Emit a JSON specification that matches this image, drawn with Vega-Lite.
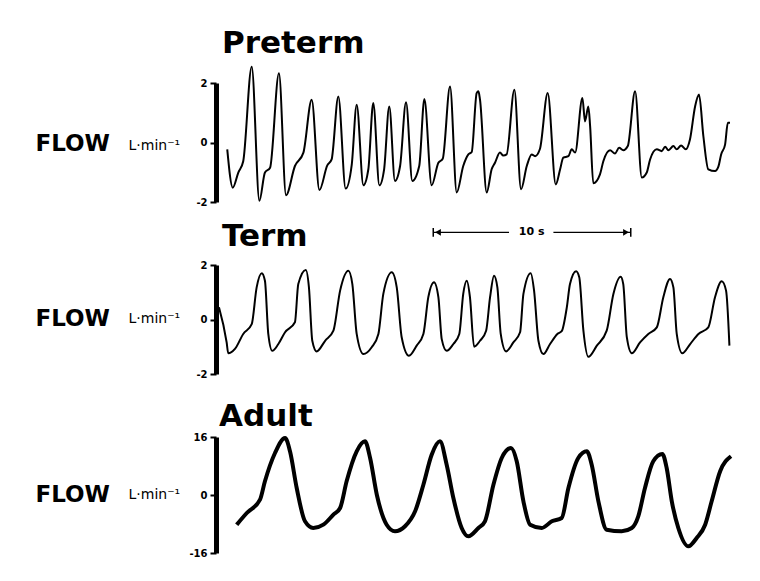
{
  "$schema": "https://vega.github.io/schema/vega-lite/v6.json",
  "autosize": {"type": "pad"},
  "padding": {"left": 35, "top": 27, "right": 5, "bottom": 5},
  "background": "white",
  "bounds": "flush",
  "spacing": 63,
  "config": {"view": {"stroke": null}, "font": "DejaVu Sans"},
  "datasets": {
    "preterm": [
      {"t":0.57,"flow":-0.23},{"t":0.85,"flow":-1.52},{"t":1.13,"flow":-1.01},{"t":1.38,"flow":-0.63},{"t":1.81,"flow":2.55},{"t":2.2,"flow":-1.96},{"t":2.48,"flow":-1.01},{"t":2.74,"flow":-0.85},{"t":3.19,"flow":2.33},{"t":3.55,"flow":-1.77},{"t":4.0,"flow":-0.79},{"t":4.43,"flow":-0.34},{"t":4.85,"flow":1.44},{"t":5.24,"flow":-1.6},{"t":5.64,"flow":-0.77},{"t":5.86,"flow":-0.57},{"t":6.2,"flow":1.55},{"t":6.57,"flow":-1.55},{"t":6.88,"flow":-0.74},{"t":7.13,"flow":1.27},{"t":7.47,"flow":-1.44},{"t":7.72,"flow":-0.9},{"t":7.97,"flow":1.33},{"t":8.28,"flow":-1.44},{"t":8.52,"flow":-0.9},{"t":8.78,"flow":1.21},{"t":9.07,"flow":-1.29},{"t":9.33,"flow":-0.79},{"t":9.63,"flow":1.35},{"t":9.95,"flow":-1.29},{"t":10.3,"flow":-0.79},{"t":10.56,"flow":1.46},{"t":10.93,"flow":-1.44},{"t":11.27,"flow":-0.68},{"t":11.49,"flow":-0.55},{"t":11.86,"flow":1.88},{"t":12.2,"flow":-1.68},{"t":12.53,"flow":-0.79},{"t":12.79,"flow":-0.4},{"t":12.96,"flow":-0.32},{"t":13.21,"flow":1.66},{"t":13.3,"flow":1.72},{"t":13.38,"flow":1.44},{"t":13.72,"flow":-1.68},{"t":13.97,"flow":-0.9},{"t":14.14,"flow":-0.68},{"t":14.39,"flow":-0.34},{"t":14.56,"flow":-0.44},{"t":14.73,"flow":-0.4},{"t":15.12,"flow":1.77},{"t":15.46,"flow":-1.57},{"t":15.75,"flow":-0.79},{"t":16.0,"flow":-0.4},{"t":16.17,"flow":-0.46},{"t":16.42,"flow":-0.21},{"t":16.81,"flow":1.66},{"t":17.22,"flow":-1.41},{"t":17.44,"flow":-0.9},{"t":17.6,"flow":-0.51},{"t":17.86,"flow":-0.46},{"t":18.03,"flow":-0.23},{"t":18.2,"flow":-0.34},{"t":18.57,"flow":1.5},{"t":18.7,"flow":0.71},{"t":18.87,"flow":1.21},{"t":18.96,"flow":0.55},{"t":19.12,"flow":-1.37},{"t":19.46,"flow":-1.07},{"t":19.63,"flow":-0.63},{"t":19.97,"flow":-0.26},{"t":20.22,"flow":-0.37},{"t":20.43,"flow":-0.18},{"t":20.64,"flow":-0.26},{"t":20.87,"flow":-0.12},{"t":21.24,"flow":1.72},{"t":21.58,"flow":-1.18},{"t":21.83,"flow":-1.01},{"t":22.0,"flow":-0.57},{"t":22.34,"flow":-0.23},{"t":22.59,"flow":-0.29},{"t":22.76,"flow":-0.14},{"t":22.93,"flow":-0.26},{"t":23.18,"flow":-0.12},{"t":23.35,"flow":-0.23},{"t":23.57,"flow":-0.1},{"t":23.81,"flow":-0.23},{"t":24.02,"flow":0.1},{"t":24.28,"flow":1.21},{"t":24.48,"flow":1.61},{"t":24.7,"flow":0.21},{"t":24.95,"flow":-0.9},{"t":25.29,"flow":-0.96},{"t":25.46,"flow":-0.81},{"t":25.6,"flow":-0.4},{"t":25.8,"flow":-0.07},{"t":25.94,"flow":0.66},{"t":26.05,"flow":0.66}
    ],
    "term": [
      {"t":0.15,"flow":0.45},{"t":0.54,"flow":-0.84},{"t":0.62,"flow":-1.24},{"t":0.96,"flow":-1.08},{"t":1.38,"flow":-0.53},{"t":1.81,"flow":-0.17},{"t":2.06,"flow":1.18},{"t":2.32,"flow":1.7},{"t":2.48,"flow":1.42},{"t":2.65,"flow":-0.53},{"t":2.85,"flow":-1.15},{"t":3.16,"flow":-0.9},{"t":3.5,"flow":-0.47},{"t":4.0,"flow":-0.1},{"t":4.17,"flow":1.3},{"t":4.55,"flow":1.82},{"t":4.71,"flow":1.18},{"t":4.88,"flow":-0.78},{"t":5.1,"flow":-1.17},{"t":5.53,"flow":-0.78},{"t":5.95,"flow":-0.41},{"t":6.29,"flow":1.06},{"t":6.71,"flow":1.79},{"t":6.91,"flow":1.3},{"t":7.13,"flow":-0.53},{"t":7.47,"flow":-1.27},{"t":7.89,"flow":-1.02},{"t":8.23,"flow":-0.53},{"t":8.48,"flow":0.94},{"t":8.91,"flow":1.73},{"t":9.16,"flow":1.18},{"t":9.41,"flow":-0.65},{"t":9.78,"flow":-1.33},{"t":10.17,"flow":-0.96},{"t":10.51,"flow":-0.53},{"t":10.76,"flow":0.82},{"t":11.05,"flow":1.37},{"t":11.27,"flow":0.82},{"t":11.44,"flow":-0.72},{"t":11.69,"flow":-1.15},{"t":12.03,"flow":-0.9},{"t":12.33,"flow":-0.53},{"t":12.53,"flow":0.94},{"t":12.71,"flow":1.42},{"t":12.87,"flow":0.82},{"t":13.08,"flow":-1.0},{"t":13.38,"flow":-0.78},{"t":13.69,"flow":-0.41},{"t":13.89,"flow":0.82},{"t":14.09,"flow":1.61},{"t":14.26,"flow":1.18},{"t":14.43,"flow":-0.53},{"t":14.7,"flow":-1.17},{"t":15.07,"flow":-0.84},{"t":15.41,"flow":-0.47},{"t":15.58,"flow":0.94},{"t":15.95,"flow":1.7},{"t":16.12,"flow":1.06},{"t":16.34,"flow":-0.78},{"t":16.59,"flow":-1.27},{"t":16.93,"flow":-0.9},{"t":17.3,"flow":-0.53},{"t":17.52,"flow":-0.43},{"t":17.78,"flow":0.45},{"t":17.94,"flow":1.3},{"t":18.25,"flow":1.77},{"t":18.41,"flow":1.55},{"t":18.62,"flow":-0.41},{"t":18.87,"flow":-1.37},{"t":19.3,"flow":-0.96},{"t":19.8,"flow":-0.41},{"t":20.14,"flow":0.94},{"t":20.51,"flow":1.57},{"t":20.64,"flow":1.3},{"t":20.82,"flow":-0.65},{"t":21.07,"flow":-1.24},{"t":21.49,"flow":-0.84},{"t":21.91,"flow":-0.53},{"t":22.34,"flow":-0.29},{"t":22.67,"flow":0.82},{"t":23.01,"flow":1.49},{"t":23.18,"flow":1.18},{"t":23.35,"flow":-0.53},{"t":23.63,"flow":-1.24},{"t":24.03,"flow":-0.9},{"t":24.45,"flow":-0.53},{"t":24.95,"flow":-0.29},{"t":25.29,"flow":0.82},{"t":25.63,"flow":1.4},{"t":25.85,"flow":1.06},{"t":26.02,"flow":-0.96}
    ],
    "adult": [
      {"t":1.05,"flow":-8.19},{"t":1.56,"flow":-4.97},{"t":2.23,"flow":-1.3},{"t":2.48,"flow":3.78},{"t":2.99,"flow":11.59},{"t":3.5,"flow":15.72},{"t":3.75,"flow":12.06},{"t":4.09,"flow":1.93},{"t":4.51,"flow":-7.26},{"t":4.93,"flow":-9.1},{"t":5.44,"flow":-8.19},{"t":5.95,"flow":-5.43},{"t":6.29,"flow":-3.59},{"t":6.62,"flow":3.78},{"t":7.13,"flow":12.06},{"t":7.55,"flow":14.81},{"t":7.81,"flow":10.21},{"t":8.15,"flow":0.08},{"t":8.65,"flow":-8.19},{"t":9.07,"flow":-10.01},{"t":9.58,"flow":-8.63},{"t":10.09,"flow":-4.5},{"t":10.51,"flow":2.84},{"t":10.93,"flow":11.12},{"t":11.35,"flow":14.81},{"t":11.69,"flow":8.36},{"t":12.03,"flow":-0.83},{"t":12.45,"flow":-9.1},{"t":12.79,"flow":-11.39},{"t":13.3,"flow":-9.1},{"t":13.63,"flow":-7.26},{"t":14.06,"flow":2.84},{"t":14.48,"flow":10.21},{"t":14.95,"flow":12.97},{"t":15.24,"flow":9.3},{"t":15.58,"flow":-1.74},{"t":15.92,"flow":-8.19},{"t":16.51,"flow":-9.1},{"t":17.02,"flow":-7.26},{"t":17.52,"flow":-6.34},{"t":17.86,"flow":1.93},{"t":18.36,"flow":10.21},{"t":18.79,"flow":12.06},{"t":19.04,"flow":8.36},{"t":19.38,"flow":-1.74},{"t":19.8,"flow":-9.57},{"t":20.56,"flow":-10.01},{"t":21.07,"flow":-9.1},{"t":21.4,"flow":-5.88},{"t":21.74,"flow":1.93},{"t":22.16,"flow":9.3},{"t":22.62,"flow":11.31},{"t":22.84,"flow":7.45},{"t":23.1,"flow":-1.74},{"t":23.43,"flow":-9.1},{"t":23.94,"flow":-14.15},{"t":24.36,"flow":-11.86},{"t":24.79,"flow":-8.19},{"t":25.12,"flow":-1.74},{"t":25.55,"flow":6.54},{"t":26.1,"flow":10.68}
    ],
    "barSegments": [
      {"from": 11.01, "to": 14.85, "level": -3.02},
      {"from": 17.1, "to": 21.02, "level": -3.02}
    ],
    "barEnds": [
      {"at": 11.01, "lo": -3.17, "hi": -2.87},
      {"at": 21.02, "lo": -3.17, "hi": -2.87}
    ],
    "barArrows": [
      {"at": 11.25, "level": -3.02, "dir": "left"},
      {"at": 20.78, "level": -3.02, "dir": "right"}
    ],
    "barLabel": [
      {"label": "10 s", "at": 16.0, "level": -3.02}
    ]
  },
  "vconcat": [
    {
      "width": 515,
      "height": 119,
      "title": {"text": "Preterm", "anchor": "start", "frame": "group", "font": "DejaVu Sans", "fontSize": 31, "fontWeight": "bold", "color": "black", "baseline": "alphabetic", "offset": -21, "dx": 6},
      "layer": [
        {
          "data": {"name": "preterm"},
          "mark": {"type": "line", "color": "black", "strokeWidth": 2, "interpolate": "monotone"},
          "encoding": {
            "x": {"field": "t", "type": "quantitative", "scale": {"domain": [0, 26.1], "nice": false, "zero": false}, "axis": null},
            "y": {"field": "flow", "type": "quantitative", "scale": {"domain": [-2, 2], "nice": false, "zero": false},
              "axis": {"orient": "left", "values": [-2, 0, 2], "labelExpr": "'' + datum.value", "title": "L·min⁻¹", "titleAngle": 0, "titleAlign": "left", "titleBaseline": "alphabetic", "titleX": -88, "titleY": 66.7, "titleFont": "DejaVu Sans", "titleFontSize": 14, "titleFontWeight": "normal", "titleColor": "black", "domainColor": "black", "domainWidth": 5, "ticks": true, "tickSize": 6, "tickWidth": 2, "tickColor": "black", "labelFont": "DejaVu Sans", "labelFontSize": 10, "labelFontWeight": "bold", "labelColor": "black", "labelPadding": 3, "grid": false}}
          }
        },
        {
          "data": {"name": "preterm"},
          "mark": {"type": "line", "strokeOpacity": 0},
          "encoding": {
            "x": {"field": "t", "type": "quantitative", "axis": null},
            "y": {"field": "flow", "type": "quantitative",
              "axis": {"orient": "left", "title": "FLOW", "titleAngle": 0, "titleAlign": "left", "titleBaseline": "alphabetic", "titleX": -181, "titleY": 67.7, "titleFont": "DejaVu Sans", "titleFontSize": 23, "titleFontWeight": "bold", "titleColor": "black", "labels": false, "ticks": false, "domain": false, "grid": false}}
          }
        },
        {
          "data": {"name": "barSegments"},
          "mark": {"type": "rule", "color": "black", "strokeWidth": 1.3},
          "encoding": {
            "x": {"field": "from", "type": "quantitative", "axis": null},
            "x2": {"field": "to"},
            "y": {"field": "level", "type": "quantitative", "axis": null}
          }
        },
        {
          "data": {"name": "barEnds"},
          "mark": {"type": "rule", "color": "black", "strokeWidth": 1.5},
          "encoding": {
            "x": {"field": "at", "type": "quantitative", "axis": null},
            "y": {"field": "lo", "type": "quantitative", "axis": null},
            "y2": {"field": "hi"}
          }
        },
        {
          "data": {"name": "barArrows"},
          "mark": {"type": "point", "filled": true, "color": "black", "size": 45, "opacity": 1},
          "encoding": {
            "x": {"field": "at", "type": "quantitative", "axis": null},
            "y": {"field": "level", "type": "quantitative", "axis": null},
            "shape": {"field": "dir", "type": "nominal", "scale": {"domain": ["left", "right"], "range": ["triangle-left", "triangle-right"]}, "legend": null}
          }
        },
        {
          "data": {"name": "barLabel"},
          "mark": {"type": "text", "font": "DejaVu Sans", "fontSize": 11, "fontWeight": "bold", "color": "black", "align": "center", "baseline": "middle"},
          "encoding": {
            "x": {"field": "at", "type": "quantitative", "axis": null},
            "y": {"field": "level", "type": "quantitative", "axis": null},
            "text": {"field": "label"}
          }
        }
      ],
      "resolve": {"axis": {"y": "independent"}}
    },
    {
      "width": 515,
      "height": 109,
      "title": {"text": "Term", "anchor": "start", "frame": "group", "font": "DejaVu Sans", "fontSize": 31, "fontWeight": "bold", "color": "black", "baseline": "alphabetic", "offset": -17, "dx": 6},
      "layer": [
        {
          "data": {"name": "term"},
          "mark": {"type": "line", "color": "black", "strokeWidth": 2, "interpolate": "monotone"},
          "encoding": {
            "x": {"field": "t", "type": "quantitative", "scale": {"domain": [0, 26.1], "nice": false, "zero": false}, "axis": null},
            "y": {"field": "flow", "type": "quantitative", "scale": {"domain": [-2, 2], "nice": false, "zero": false},
              "axis": {"orient": "left", "values": [-2, 0, 2], "labelExpr": "'' + datum.value", "title": "L·min⁻¹", "titleAngle": 0, "titleAlign": "left", "titleBaseline": "alphabetic", "titleX": -88, "titleY": 57.3, "titleFont": "DejaVu Sans", "titleFontSize": 14, "titleFontWeight": "normal", "titleColor": "black", "domainColor": "black", "domainWidth": 5, "ticks": true, "tickSize": 6, "tickWidth": 2, "tickColor": "black", "labelFont": "DejaVu Sans", "labelFontSize": 10, "labelFontWeight": "bold", "labelColor": "black", "labelPadding": 3, "grid": false}}
          }
        },
        {
          "data": {"name": "term"},
          "mark": {"type": "line", "strokeOpacity": 0},
          "encoding": {
            "x": {"field": "t", "type": "quantitative", "axis": null},
            "y": {"field": "flow", "type": "quantitative",
              "axis": {"orient": "left", "title": "FLOW", "titleAngle": 0, "titleAlign": "left", "titleBaseline": "alphabetic", "titleX": -181, "titleY": 60.7, "titleFont": "DejaVu Sans", "titleFontSize": 23, "titleFontWeight": "bold", "titleColor": "black", "labels": false, "ticks": false, "domain": false, "grid": false}}
          }
        }
      ],
      "resolve": {"axis": {"y": "independent"}}
    },
    {
      "width": 515,
      "height": 116,
      "title": {"text": "Adult", "anchor": "start", "frame": "group", "font": "DejaVu Sans", "fontSize": 31, "fontWeight": "bold", "color": "black", "baseline": "alphabetic", "offset": -27, "dx": 3},
      "layer": [
        {
          "data": {"name": "adult"},
          "mark": {"type": "line", "color": "black", "strokeWidth": 4, "interpolate": "monotone"},
          "encoding": {
            "x": {"field": "t", "type": "quantitative", "scale": {"domain": [0, 26.1], "nice": false, "zero": false}, "axis": null},
            "y": {"field": "flow", "type": "quantitative", "scale": {"domain": [-16, 16], "nice": false, "zero": false},
              "axis": {"orient": "left", "values": [-16, 0, 16], "labelExpr": "'' + datum.value", "title": "L·min⁻¹", "titleAngle": 0, "titleAlign": "left", "titleBaseline": "alphabetic", "titleX": -88, "titleY": 61, "titleFont": "DejaVu Sans", "titleFontSize": 14, "titleFontWeight": "normal", "titleColor": "black", "domainColor": "black", "domainWidth": 5, "ticks": true, "tickSize": 6, "tickWidth": 2, "tickColor": "black", "labelFont": "DejaVu Sans", "labelFontSize": 10, "labelFontWeight": "bold", "labelColor": "black", "labelPadding": 3, "grid": false}}
          }
        },
        {
          "data": {"name": "adult"},
          "mark": {"type": "line", "strokeOpacity": 0},
          "encoding": {
            "x": {"field": "t", "type": "quantitative", "axis": null},
            "y": {"field": "flow", "type": "quantitative",
              "axis": {"orient": "left", "title": "FLOW", "titleAngle": 0, "titleAlign": "left", "titleBaseline": "alphabetic", "titleX": -181, "titleY": 64.3, "titleFont": "DejaVu Sans", "titleFontSize": 23, "titleFontWeight": "bold", "titleColor": "black", "labels": false, "ticks": false, "domain": false, "grid": false}}
          }
        }
      ],
      "resolve": {"axis": {"y": "independent"}}
    }
  ]
}
